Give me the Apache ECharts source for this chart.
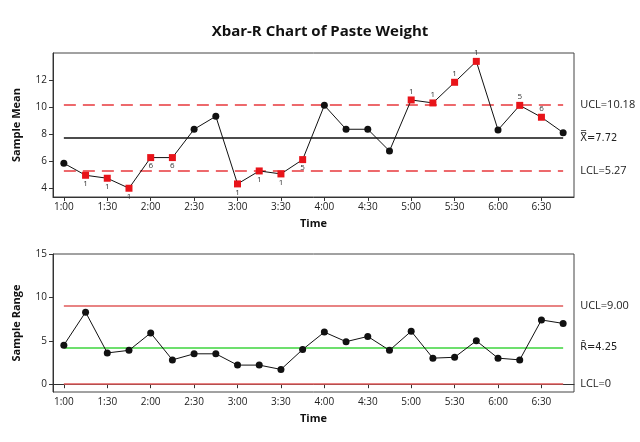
<!DOCTYPE html>
<html>
<head>
<meta charset="utf-8">
<script src="https://cdn.jsdelivr.net/npm/echarts@6/dist/echarts.min.js"></script>
<style>
  html, body { margin: 0; padding: 0; background: #fff; }
  #chart { width: 640px; height: 442px; }
</style>
</head>
<body>
<div id="chart"></div>
<script>
// sample times (every 15 minutes)
var times = ['1:00', '1:15', '1:30', '1:45', '2:00', '2:15', '2:30', '2:45',
  '3:00', '3:15', '3:30', '3:45', '4:00', '4:15', '4:30', '4:45',
  '5:00', '5:15', '5:30', '5:45', '6:00', '6:15', '6:30', '6:45'];

// subgroup means
var means = [5.83, 4.94, 4.72, 3.98, 6.25, 6.25, 8.35, 9.31,
  4.30, 5.26, 5.04, 6.10, 10.12, 8.35, 8.35, 6.74,
  10.52, 10.30, 11.83, 13.38, 8.30, 10.12, 9.24, 8.10];

// failed test number for each mean ('' = in control)
var meanTests = ['', '1', '1', '1', '6', '6', '', '',
  '1', '1', '1', '5', '', '', '', '',
  '1', '1', '1', '1', '', '5', '6', ''];

// subgroup ranges
var ranges = [4.5, 8.3, 3.6, 3.9, 5.9, 2.8, 3.5, 3.5,
  2.2, 2.2, 1.7, 4.0, 6.0, 4.9, 5.5, 3.9,
  6.1, 3.0, 3.1, 5.0, 3.0, 2.8, 7.4, 7.0];

// control limits
var xbarLimits = { ucl: 10.18, center: 7.72, lcl: 5.27 };
var rangeLimits = { ucl: 9.00, center: 4.25, lcl: 0 };

var meanTicks = [4, 6, 8, 10, 12];
var rangeTicks = [0, 5, 10, 15];

var font = 'Open Sans';
var first = times[0], last = times[times.length - 1];

function limitLine(value, text, style, labelFont) {
  var label = { formatter: text };
  if (labelFont) label.fontFamily = labelFont;
  return [
    { coord: [first, value], lineStyle: style, label: label },
    { coord: [last, value] }
  ];
}

var meanData = means.map(function (v, i) {
  if (!meanTests[i]) return v;
  return {
    value: v,
    symbol: 'rect',
    symbolSize: 7,
    itemStyle: { color: '#e8141a' },
    label: {
      show: true,
      formatter: meanTests[i],
      position: v < xbarLimits.center ? 'bottom' : 'top',
      distance: 1,
      fontSize: 8,
      color: '#333',
      fontFamily: font
    }
  };
});

var redDash = { color: '#e8383c', type: [12, 7], width: 1.5 };
var redSolid = { color: '#e05a5a', type: 'solid', width: 1.5 };

function xAxisCfg(gridIndex) {
  return {
    type: 'category',
    gridIndex: gridIndex,
    data: times,
    boundaryGap: true,
    name: 'Time',
    nameLocation: 'middle',
    nameGap: 21,
    nameTextStyle: { fontFamily: font, fontWeight: 'bold', fontSize: 11, color: '#111' },
    axisLine: { show: true, lineStyle: { color: '#333' } },
    axisTick: { show: true, interval: 1, alignWithLabel: true, length: 4, lineStyle: { color: '#333' } },
    axisLabel: { interval: 1, fontFamily: font, fontSize: 10, color: '#222', margin: 5 },
    splitLine: { show: false }
  };
}

function yAxisCfg(gridIndex, name, min, max, ticks) {
  return {
    type: 'value',
    gridIndex: gridIndex,
    min: min,
    max: max,
    name: name,
    nameLocation: 'middle',
    nameGap: 31,
    nameTextStyle: { fontFamily: font, fontWeight: 'bold', fontSize: 11, color: '#111' },
    axisLine: { show: true, lineStyle: { color: '#333' } },
    axisTick: { show: true, length: 4, customValues: ticks, lineStyle: { color: '#333' } },
    axisLabel: { customValues: ticks, fontFamily: font, fontSize: 10, color: '#222', margin: 6 },
    splitLine: { show: false }
  };
}

var chart = echarts.init(document.getElementById('chart'));
chart.setOption({
  backgroundColor: '#fff',
  animation: false,
  title: {
    text: 'Xbar-R Chart of Paste Weight',
    left: 'center',
    top: 19,
    textStyle: { fontFamily: font, fontWeight: 'bold', fontSize: 15, color: '#111' }
  },
  grid: [
    { left: 53, right: 66, top: 53, height: 144, show: true, borderColor: '#444', borderWidth: 1 },
    { left: 53, right: 66, top: 254, height: 138, show: true, borderColor: '#444', borderWidth: 1 }
  ],
  xAxis: [xAxisCfg(0), xAxisCfg(1)],
  yAxis: [
    yAxisCfg(0, 'Sample Mean', 3.33, 14, meanTicks),
    yAxisCfg(1, 'Sample Range', -0.9, 15, rangeTicks)
  ],
  series: [
    {
      name: 'Sample Mean',
      type: 'line',
      xAxisIndex: 0,
      yAxisIndex: 0,
      data: meanData,
      symbol: 'circle',
      symbolSize: 7,
      itemStyle: { color: '#111' },
      lineStyle: { color: '#111', width: 1 },
      z: 5,
      markLine: {
        silent: true,
        symbol: 'none',
        z: 2,
        label: { show: true, position: 'end', distance: 17, fontFamily: font, fontSize: 11, color: '#222' },
        data: [
          limitLine(xbarLimits.ucl, 'UCL=' + xbarLimits.ucl.toFixed(2), redDash),
          limitLine(xbarLimits.center, 'X\u033F=' + xbarLimits.center.toFixed(2),
            { color: '#111', type: 'solid', width: 1.5 }, 'DejaVu Sans Condensed'),
          limitLine(xbarLimits.lcl, 'LCL=' + xbarLimits.lcl.toFixed(2), redDash)
        ]
      }
    },
    {
      name: 'Sample Range',
      type: 'line',
      xAxisIndex: 1,
      yAxisIndex: 1,
      data: ranges,
      symbol: 'circle',
      symbolSize: 7,
      itemStyle: { color: '#111' },
      lineStyle: { color: '#111', width: 1 },
      z: 5,
      markLine: {
        silent: true,
        symbol: 'none',
        z: 2,
        label: { show: true, position: 'end', distance: 17, fontFamily: font, fontSize: 11, color: '#222' },
        data: [
          limitLine(rangeLimits.ucl, 'UCL=' + rangeLimits.ucl.toFixed(2), redSolid),
          limitLine(rangeLimits.center, 'R\u0304=' + rangeLimits.center.toFixed(2),
            { color: '#3cd43c', type: 'solid', width: 1.5 }, 'DejaVu Sans Condensed'),
          limitLine(rangeLimits.lcl, 'LCL=' + rangeLimits.lcl, redSolid)
        ]
      }
    }
  ]
});
</script>
</body>
</html>
